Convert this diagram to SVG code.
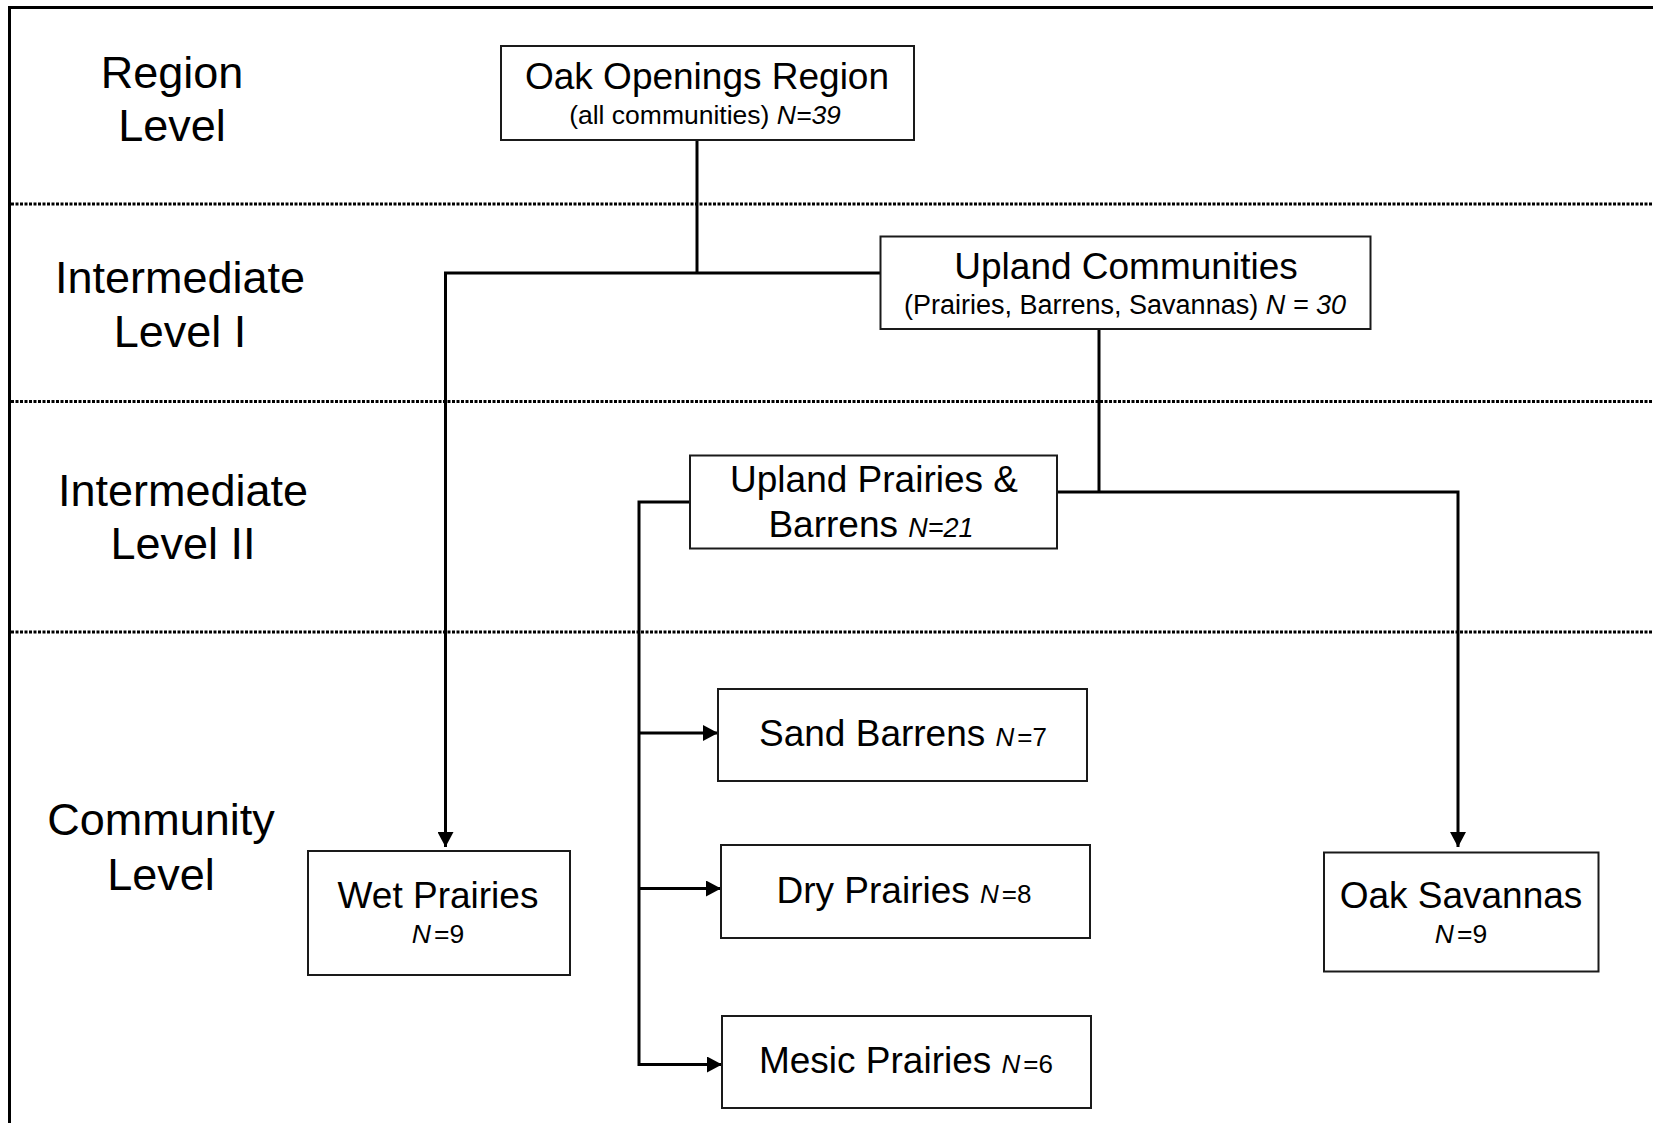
<svg xmlns="http://www.w3.org/2000/svg" width="1653" height="1123" viewBox="0 0 1653 1123">
<style>
  .box { fill: #ffffff; stroke: #1a1a1a; stroke-width: 2; }
  .conn { fill: none; stroke: #000000; stroke-width: 3; }
  .dot { fill: none; stroke: #000000; stroke-width: 3; stroke-dasharray: 3 1.5; }
  .lvl { font-family: "Liberation Sans", Arial, sans-serif; font-size: 45px; fill: #000; text-anchor: middle; }
  .t { font-family: "Liberation Sans", Arial, sans-serif; font-size: 37px; fill: #000; text-anchor: middle; }
  .s { font-family: "Liberation Sans", Arial, sans-serif; font-size: 26.5px; fill: #000; text-anchor: middle; }
  .i { font-style: italic; }
  .n { font-size: 26px; }
</style>
<defs>
  <marker id="arr" markerUnits="userSpaceOnUse" markerWidth="16" markerHeight="16" refX="15" refY="8" orient="auto">
    <path d="M0,0 L15,8 L0,16 z" fill="#000"/>
  </marker>
</defs>
<rect x="0" y="0" width="1653" height="1123" fill="#ffffff"/>
<rect x="9.5" y="7.5" width="1700" height="1200" fill="none" stroke="#000" stroke-width="3"/>

<g id="level-lines">
  <line class="dot" x1="11" y1="204" x2="1653" y2="204"/>
  <line class="dot" x1="11" y1="401.5" x2="1653" y2="401.5"/>
  <line class="dot" x1="11" y1="632" x2="1653" y2="632"/>
</g>

<g id="level-labels">
  <text class="lvl" x="172" y="88">Region</text>
  <text class="lvl" x="172" y="141">Level</text>
  <text class="lvl" x="180" y="293">Intermediate</text>
  <text class="lvl" x="180" y="347">Level I</text>
  <text class="lvl" x="183" y="506">Intermediate</text>
  <text class="lvl" x="183" y="559">Level II</text>
  <text class="lvl" x="161" y="835">Community</text>
  <text class="lvl" x="161" y="890">Level</text>
</g>

<g id="connectors">
  <polyline class="conn" points="697,140 697,273"/>
  <polyline class="conn" points="880,273 445.5,273 445.5,847" marker-end="url(#arr)"/>
  <polyline class="conn" points="1099,329 1099,492"/>
  <polyline class="conn" points="1057,492 1458,492 1458,847" marker-end="url(#arr)"/>
  <polyline class="conn" points="690,502 639,502 639,1064.5 722,1064.5" marker-end="url(#arr)"/>
  <line class="conn" x1="639" y1="733" x2="718" y2="733" marker-end="url(#arr)"/>
  <line class="conn" x1="639" y1="888.5" x2="721" y2="888.5" marker-end="url(#arr)"/>
</g>

<g id="oak-openings-region">
  <rect class="box" x="501" y="46" width="413" height="94"/>
  <text class="t" x="707" y="89">Oak Openings Region</text>
  <text class="s" x="705" y="124">(all communities) <tspan class="i">N=39</tspan></text>
</g>

<g id="upland-communities">
  <rect class="box" x="880.5" y="236.5" width="490" height="92.5"/>
  <text class="t" x="1126" y="279">Upland Communities</text>
  <text class="s" x="1125" y="314" style="font-size:27px">(Prairies, Barrens, Savannas) <tspan class="i">N = 30</tspan></text>
</g>

<g id="upland-prairies-barrens">
  <rect class="box" x="690" y="455.5" width="367" height="93"/>
  <text class="t" x="874" y="492">Upland Prairies &amp;</text>
  <text class="t" x="871" y="537">Barrens <tspan class="i" style="font-size:27px">N=21</tspan></text>
</g>

<g id="sand-barrens">
  <rect class="box" x="718" y="689" width="369" height="92"/>
  <text class="t" x="903" y="746">Sand Barrens <tspan class="i n">N</tspan><tspan class="n" dx="3">=7</tspan></text>
</g>

<g id="dry-prairies">
  <rect class="box" x="721" y="845" width="369" height="93"/>
  <text class="t" x="904" y="903">Dry Prairies <tspan class="i n">N</tspan><tspan class="n" dx="3">=8</tspan></text>
</g>

<g id="mesic-prairies">
  <rect class="box" x="722" y="1016" width="369" height="92"/>
  <text class="t" x="906" y="1073">Mesic Prairies <tspan class="i n">N</tspan><tspan class="n" dx="3">=6</tspan></text>
</g>

<g id="wet-prairies">
  <rect class="box" x="308" y="851" width="262" height="124"/>
  <text class="t" x="438" y="908">Wet Prairies</text>
  <text class="s" x="438" y="943"><tspan class="i">N</tspan><tspan dx="3">=9</tspan></text>
</g>

<g id="oak-savannas">
  <rect class="box" x="1324" y="852.5" width="274.5" height="119"/>
  <text class="t" x="1461" y="908">Oak Savannas</text>
  <text class="s" x="1461" y="943"><tspan class="i">N</tspan><tspan dx="3">=9</tspan></text>
</g>
</svg>
